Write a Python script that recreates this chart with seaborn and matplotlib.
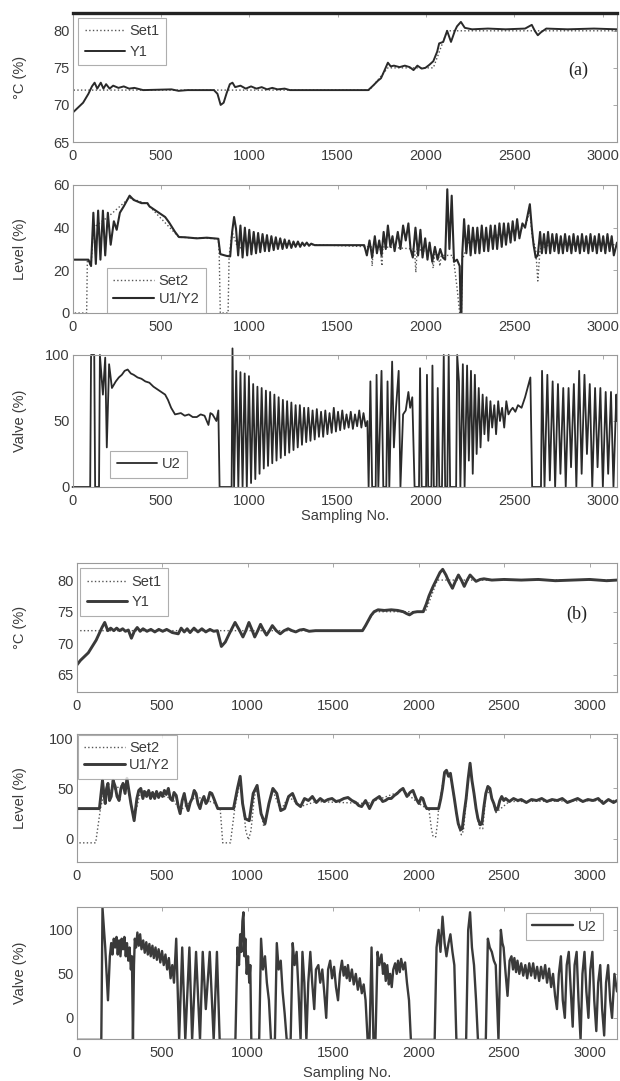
import matplotlib
matplotlib.use("Agg")
import matplotlib.pyplot as plt
import seaborn as sns

# ---------------- data: (sample, value) vertices of each trace ----------------
# Run (a)
A_SET1 = [(0, 82.3), (1, 72), (1680, 72), (1784, 75), (2041, 75), (2119, 80), (3080, 80)]
A_Y1 = [(0, 65), (3, 69), (25, 69.5), (60, 70.3), (90, 71.5), (110, 72.5), (125, 73), (140, 72.2),
        (160, 73), (175, 72.2), (190, 72.8), (210, 72.2), (230, 72.6), (260, 72.3), (290, 72.5),
        (320, 72.2), (350, 72.3), (400, 72.0), (560, 72.1), (600, 71.9), (650, 72.0), (800, 72.0),
        (820, 71.5), (838, 70.0), (855, 70.3), (872, 71.6), (890, 72.8), (905, 73.0), (920, 72.4),
        (950, 72.6), (980, 72.2), (1010, 72.5), (1040, 72.2), (1070, 72.4), (1100, 72.1),
        (1130, 72.3), (1160, 72.1), (1200, 72.2), (1230, 72.0), (1673, 72.0), (1700, 72.6),
        (1729, 73.3), (1745, 73.6), (1762, 74.5), (1784, 75.7), (1800, 75.2), (1818, 75.3),
        (1850, 75.1), (1880, 75.3), (1907, 75.1), (1929, 74.7), (1951, 75.3), (1975, 74.9),
        (1996, 75.0), (2018, 75.4), (2041, 75.9), (2063, 77.2), (2074, 78.3), (2097, 78.5),
        (2119, 80.0), (2141, 78.5), (2163, 80.0), (2175, 80.6), (2197, 81.2), (2219, 80.4),
        (2260, 80.2), (2350, 80.3), (2450, 80.2), (2560, 80.3), (2598, 80.8), (2615, 80.0),
        (2632, 79.4), (2650, 79.8), (2680, 80.3), (2800, 80.2), (2950, 80.3), (3080, 80.2)]

A_SET2 = [(0, 25), (2, 0), (80, 0), (84, 25), (105, 22), (118, 40), (200, 45), (323, 54), (424, 51),
          (602, 35.5), (825, 34.8), (830, 27), (836, 0), (880, 0), (886, 27), (903, 38), (937, 30),
          (1000, 33), (1370, 32), (1690, 31), (1695, 22), (1702, 31), (1740, 31), (1750, 22),
          (1756, 31), (1935, 30), (1942, 19), (1950, 30), (2030, 28), (2040, 21), (2050, 28),
          (2070, 27), (2078, 22), (2086, 27), (2150, 27), (2160, 22), (2175, 12), (2190, 0),
          (2200, 0), (2205, 25), (2240, 33), (2560, 40), (2587, 48), (2600, 36), (2620, 30),
          (2632, 15), (2645, 30), (2700, 32), (3080, 32)]
A_Y2 = [(0, 25), (90, 25), (105, 22), (118, 47), (132, 23), (145, 48), (158, 25), (172, 48), (185, 27),
        (200, 47), (216, 32), (234, 43), (250, 39), (268, 47), (290, 50), (323, 55), (346, 53),
        (390, 51.5), (424, 51.5), (435, 50), (480, 47.5), (524, 45), (546, 42.5), (580, 38),
        (602, 35.6), (636, 35.5), (703, 35), (760, 35.3), (825, 34.8), (836, 27.6), (870, 26.8),
        (892, 26.5), (903, 38), (914, 45), (925, 39.5), (937, 27),
        (950, 41), (962, 26), (975, 40), (988, 27), (1000, 39), (1012, 27.5), (1025, 38), (1038, 28),
        (1050, 37.5), (1062, 28.5), (1075, 37), (1088, 29), (1100, 36.5), (1112, 29), (1125, 36),
        (1138, 29.5), (1150, 35.5), (1162, 30), (1175, 35), (1188, 30), (1200, 34.5), (1212, 30.5),
        (1225, 34), (1238, 30.5), (1250, 33.5), (1262, 31), (1275, 33.5), (1288, 31), (1300, 33),
        (1312, 31.5), (1325, 33), (1338, 31.5), (1350, 32.5), (1370, 31.8), (1650, 31.8),
        (1665, 27), (1680, 34), (1695, 26), (1710, 36), (1722, 28), (1735, 34), (1748, 27),
        (1760, 38), (1772, 30), (1784, 41), (1798, 31), (1810, 36), (1822, 29), (1840, 38),
        (1855, 30), (1870, 41), (1885, 34), (1900, 42), (1912, 30), (1925, 26), (1940, 40),
        (1955, 27), (1968, 39), (1980, 26), (1995, 35), (2008, 25), (2020, 33), (2035, 24),
        (2050, 31), (2065, 25), (2080, 30), (2095, 26), (2108, 25), (2120, 58), (2132, 30),
        (2145, 55), (2158, 24), (2175, 25), (2190, 22), (2196, 0), (2200, 0), (2205, 28),
        (2215, 44), (2228, 28), (2240, 41), (2252, 27), (2265, 40), (2278, 28), (2290, 40),
        (2302, 28), (2315, 41), (2328, 29), (2340, 40), (2352, 29), (2365, 41), (2378, 30),
        (2390, 41), (2402, 30), (2415, 42), (2428, 31), (2440, 42), (2452, 32), (2465, 42),
        (2478, 33), (2490, 43), (2502, 34), (2515, 44), (2528, 35), (2545, 42), (2560, 40),
        (2575, 46), (2587, 51), (2598, 40), (2608, 32), (2620, 26), (2632, 27), (2645, 38),
        (2655, 28), (2667, 37), (2678, 28), (2690, 38), (2702, 28), (2714, 37), (2726, 29),
        (2738, 37), (2750, 28), (2762, 36), (2774, 28), (2786, 37), (2798, 29), (2810, 36),
        (2822, 28), (2834, 37), (2846, 29), (2858, 36), (2870, 28), (2882, 37), (2894, 29),
        (2906, 36), (2918, 28), (2930, 37), (2942, 29), (2954, 36), (2966, 28), (2978, 37),
        (2990, 29), (3002, 36), (3014, 28), (3026, 37), (3038, 29), (3050, 36), (3062, 27),
        (3080, 33)]

A_U2 = [(0, 0), (100, 0), (105, 100), (123, 100), (128, 0), (150, 0), (155, 100), (172, 70), (185, 98),
        (194, 30), (207, 93), (223, 75), (245, 80), (262, 83), (279, 85), (295, 88), (312, 89),
        (330, 86), (346, 85), (368, 83), (390, 82), (412, 80), (435, 79), (458, 76), (480, 74),
        (502, 72), (524, 70), (540, 66), (558, 60), (580, 55), (613, 56), (635, 54), (658, 55),
        (680, 53), (703, 53), (725, 55), (747, 54), (769, 47), (780, 56), (792, 55), (814, 50),
        (825, 58), (832, 0), (900, 0), (905, 105),
        (914, 0), (926, 88), (938, 0), (950, 87), (962, 0), (974, 86), (986, 0), (998, 84), (1010, 3),
        (1022, 78), (1034, 6), (1046, 76), (1058, 10), (1070, 75), (1082, 14), (1094, 73),
        (1106, 16), (1118, 72), (1130, 18), (1142, 70), (1154, 20), (1166, 68), (1178, 22),
        (1190, 66), (1202, 24), (1214, 65), (1226, 26), (1238, 64), (1250, 28), (1262, 62),
        (1274, 30), (1286, 62), (1298, 32), (1310, 60), (1322, 34), (1334, 60), (1346, 35),
        (1358, 58), (1370, 36), (1382, 59), (1394, 38), (1406, 57), (1418, 38), (1430, 58),
        (1442, 40), (1454, 56), (1466, 41), (1478, 60), (1490, 42), (1502, 57), (1514, 43),
        (1526, 58), (1538, 44), (1550, 55), (1562, 45), (1574, 57), (1586, 44), (1598, 55),
        (1610, 46), (1622, 58), (1634, 45), (1646, 56), (1658, 46), (1668, 50),
        (1675, 0), (1685, 80), (1695, 0), (1715, 0), (1720, 85), (1730, 0), (1748, 88), (1758, 0),
        (1775, 0), (1782, 80), (1792, 0), (1808, 95), (1818, 30), (1830, 60), (1845, 88), (1855, 0),
        (1870, 55), (1885, 58), (1900, 72), (1910, 60), (1922, 68), (1935, 0), (1960, 0), (1966, 90),
        (1975, 0), (2000, 0), (2005, 85), (2012, 0), (2030, 0), (2036, 92), (2044, 0), (2060, 0),
        (2066, 75), (2075, 0), (2090, 0), (2100, 100), (2108, 0), (2120, 0), (2128, 100), (2136, 0),
        (2170, 0), (2176, 100), (2186, 80), (2194, 0), (2208, 93), (2218, 0), (2232, 92), (2242, 20),
        (2254, 88), (2264, 10), (2276, 85), (2286, 25), (2298, 75), (2308, 30), (2320, 70),
        (2330, 40), (2342, 68), (2352, 35), (2364, 65), (2374, 45), (2386, 62), (2396, 40),
        (2408, 65), (2418, 50), (2430, 60), (2442, 45), (2454, 65), (2466, 55), (2478, 58),
        (2490, 60), (2505, 57), (2520, 62), (2540, 60), (2560, 68), (2580, 78), (2590, 83),
        (2600, 0), (2650, 0), (2656, 88), (2670, 0), (2686, 85), (2700, 5), (2716, 80), (2730, 0),
        (2746, 78), (2760, 10), (2776, 75), (2790, 0), (2806, 75), (2820, 15), (2836, 78), (2850, 0),
        (2866, 88), (2880, 10), (2896, 85), (2910, 25), (2926, 78), (2940, 0), (2956, 75),
        (2970, 15), (2986, 75), (3000, 0), (3016, 72), (3030, 10), (3046, 72), (3060, 0),
        (3076, 70), (3080, 50)]

# Run (b)
B_SET1 = [(0, 72), (1672, 72), (1740, 75), (2040, 75), (2110, 80), (3160, 80)]
B_Y1 = [(0, 66.5), (23, 67.3), (69, 68.5), (115, 70.5), (149, 72.5), (165, 73.3), (183, 72.0),
        (200, 72.4), (218, 72.0), (235, 72.4), (252, 72.0), (270, 72.3), (286, 71.9), (303, 72.1),
        (321, 70.8), (338, 71.9), (355, 72.5), (372, 71.9), (389, 72.3), (412, 71.9), (435, 72.2),
        (458, 71.8), (481, 72.2), (504, 71.9), (527, 72.2), (560, 71.7), (595, 71.5), (612, 72.4),
        (630, 71.8), (647, 72.3), (664, 71.7), (687, 72.4), (710, 71.8), (733, 72.3), (756, 71.8),
        (780, 72.2), (802, 71.9), (824, 72.0), (847, 69.5), (870, 70.2), (893, 71.5), (927, 73.3),
        (950, 72.2), (973, 71.0), (990, 72.0), (1008, 73.3), (1025, 72.2), (1042, 71.0),
        (1060, 72.0), (1076, 73.0), (1093, 72.1), (1111, 71.3), (1128, 72.0), (1145, 72.8),
        (1168, 72.0), (1191, 71.5), (1214, 72.0), (1237, 72.3), (1260, 72.0), (1282, 71.8),
        (1305, 72.1), (1328, 72.2), (1360, 71.9), (1397, 72.0), (1672, 72.0), (1690, 72.8),
        (1706, 73.6), (1722, 74.4), (1740, 75.0), (1763, 75.3), (1800, 75.2), (1840, 75.3),
        (1878, 75.2), (1910, 75.0), (1930, 74.7), (1947, 74.5), (1970, 74.9), (1992, 75.0),
        (2027, 75.0), (2045, 76.2), (2061, 77.5), (2085, 79.0), (2107, 80.2), (2125, 81.2),
        (2141, 81.7), (2160, 80.8), (2176, 79.8), (2198, 78.7), (2215, 79.8), (2233, 80.8),
        (2250, 80.0), (2267, 79.0), (2284, 80.0), (2301, 80.8), (2318, 80.3), (2336, 79.8),
        (2360, 80.1), (2382, 80.2), (2428, 80.0), (2500, 80.1), (2600, 80.0), (2700, 80.1),
        (2800, 79.9), (2900, 80.0), (3000, 80.1), (3100, 79.9), (3160, 80.0)]

B_SET2 = [(0, 30), (2, -4), (112, -4), (140, 30), (160, 45), (295, 55), (318, 35), (337, 20), (376, 48),
          (560, 40), (606, 28), (699, 42), (814, 35), (826, 30), (840, 30), (855, -4), (900, -4),
          (925, 30), (957, 58), (975, 32), (990, 8), (1005, -1), (1020, 8), (1040, 42), (1056, 50),
          (1079, 26), (1095, 12), (1102, 14), (1125, 34), (1148, 48), (1194, 28), (1240, 42),
          (1310, 32), (1400, 37), (1700, 35), (1909, 48), (2002, 35), (2048, 30), (2060, 30),
          (2075, 10), (2085, 2), (2100, 2), (2110, 15), (2117, 30), (2152, 66), (2186, 64),
          (2232, 13), (2250, 4), (2262, 8), (2290, 58), (2301, 72), (2347, 18), (2360, 10),
          (2375, 10), (2393, 43), (2417, 48), (2452, 26), (2530, 37), (3160, 38)]
B_Y2 = [(0, -22), (1, 30), (134, 30), (152, 58), (160, 45), (168, 35), (176, 50), (184, 55), (193, 38),
        (203, 42), (214, 58), (226, 52), (237, 42), (249, 38), (260, 50), (272, 55), (284, 45),
        (295, 60), (306, 48), (318, 35), (337, 18), (353, 40), (364, 48), (376, 50), (388, 40),
        (398, 47), (410, 42), (422, 48), (433, 40), (445, 46), (457, 40), (468, 47), (480, 41),
        (492, 46), (503, 42), (514, 48), (525, 44), (537, 50), (548, 40), (560, 38), (570, 46),
        (583, 43), (595, 32), (606, 25), (618, 38), (630, 45), (642, 34), (653, 28), (665, 36),
        (676, 40), (688, 48), (699, 45), (710, 35), (722, 30), (734, 38), (745, 42), (757, 35),
        (768, 38), (780, 46), (791, 45), (803, 40), (814, 35), (826, 30),
        (918, 30), (941, 50), (957, 62), (971, 35), (987, 20), (1010, 18), (1033, 45), (1056, 53),
        (1079, 25), (1102, 15), (1125, 35), (1148, 50), (1171, 45), (1194, 28), (1217, 30),
        (1240, 42), (1263, 45), (1287, 35), (1310, 32), (1333, 40), (1356, 38), (1379, 42),
        (1402, 36), (1425, 40), (1448, 37), (1470, 39), (1494, 40), (1517, 37), (1540, 38),
        (1563, 40), (1587, 41), (1610, 38), (1633, 36), (1650, 33), (1667, 32), (1690, 38),
        (1713, 30), (1736, 38), (1754, 40), (1771, 42), (1790, 37), (1806, 38), (1823, 40),
        (1840, 40), (1858, 43), (1875, 45), (1892, 48), (1909, 50), (1932, 42), (1950, 46),
        (1967, 48), (1985, 40), (2002, 35), (2015, 41), (2025, 40), (2038, 33), (2048, 30),
        (2117, 30), (2130, 40), (2140, 50), (2152, 66), (2163, 68), (2175, 62), (2186, 65),
        (2198, 52), (2209, 40), (2222, 25), (2232, 15), (2245, 9), (2255, 10), (2266, 25),
        (2278, 40), (2290, 60), (2301, 75), (2312, 58), (2324, 45), (2336, 30), (2347, 20),
        (2360, 14), (2370, 15), (2382, 32), (2393, 45), (2405, 52), (2417, 50), (2428, 40),
        (2440, 35), (2452, 28), (2463, 30), (2475, 38), (2486, 42), (2498, 38), (2509, 40),
        (2530, 37), (2555, 40), (2580, 38), (2600, 39), (2630, 36), (2660, 39), (2690, 38),
        (2720, 40), (2750, 37), (2780, 39), (2810, 38), (2840, 40), (2870, 36), (2900, 38),
        (2930, 40), (2960, 37), (2990, 39), (3020, 38), (3050, 40), (3080, 35), (3110, 39),
        (3140, 36), (3160, 38)]

B_U2 = [(0, -25), (145, -25), (152, 125), (168, 80), (184, 20), (195, 70), (203, 85), (210, 72),
        (218, 90), (226, 80), (234, 92), (241, 72), (249, 88), (257, 70), (264, 90), (272, 78),
        (280, 92), (288, 70), (295, 85), (303, 65), (310, 80), (318, 55), (324, 70), (330, -25),
        (336, 60), (341, 90), (348, 80), (356, 97), (364, 82), (372, 95), (380, 78), (390, 88),
        (399, 74), (408, 86), (417, 72), (426, 84), (434, 70), (444, 82), (452, 68), (462, 80),
        (470, 66), (480, 78), (490, 63), (500, 76), (510, 60), (520, 72), (530, 55), (540, 68),
        (550, 45), (560, 60), (570, 40), (583, 90), (600, -25), (618, 80), (636, -25), (660, 80),
        (676, -25), (699, 75), (722, -25), (738, 75), (756, 10), (779, 75), (802, -25), (821, 75),
        (837, -25), (929, -25), (941, 80), (950, 60), (957, 95), (964, 75), (970, 110), (976, 120),
        (982, 70), (987, 90), (995, 50), (1003, 70), (1010, 40), (1016, 60), (1022, -25),
        (1068, -25), (1079, 90), (1090, 55), (1102, 70), (1113, 40), (1125, 20), (1137, -25),
        (1160, -25), (1171, 85), (1182, 55), (1194, 65), (1205, 30), (1217, 5), (1229, -25),
        (1252, -25), (1264, 85), (1275, 60), (1287, 75), (1298, 30), (1310, -25), (1321, 75),
        (1332, 40), (1344, -25), (1355, 40), (1367, 75), (1378, 40), (1390, 10), (1400, 55),
        (1414, 60), (1425, 40), (1437, 55), (1448, 30), (1460, 0), (1471, 55), (1483, 65),
        (1494, 45), (1506, 58), (1517, 35), (1529, 20), (1540, 50), (1552, 65), (1562, 48),
        (1570, 58), (1580, 45), (1587, 60), (1598, 42), (1610, 55), (1621, 38), (1633, 50),
        (1645, 32), (1656, 45), (1668, 28), (1679, 38), (1690, 20), (1702, -25), (1713, -25),
        (1725, 80), (1736, -25), (1748, -25), (1760, 75), (1770, 60), (1783, 72), (1792, 50),
        (1800, 62), (1808, 42), (1817, 60), (1826, 38), (1834, 50), (1843, 35), (1852, 55),
        (1863, 62), (1872, 50), (1880, 65), (1890, 52), (1898, 67), (1910, 55), (1921, 63),
        (1932, 40), (1944, 20), (1955, -25), (2094, -25), (2105, 80), (2117, 100), (2128, 75),
        (2140, 115), (2152, 85), (2163, 70), (2175, 85), (2186, 95), (2198, 75), (2209, 60),
        (2221, -25), (2278, -25), (2290, 100), (2301, 120), (2312, 80), (2324, 60), (2336, 20),
        (2347, -25), (2393, -25), (2405, 90), (2416, 80), (2428, 75), (2440, 65), (2451, 60),
        (2467, -25), (2481, 100), (2490, 85), (2497, 80), (2509, 50), (2520, 25), (2532, 65),
        (2543, 70), (2552, 55), (2560, 68), (2570, 52), (2578, 65), (2589, 50), (2600, 62),
        (2612, 48), (2624, 60), (2635, 45), (2647, 62), (2658, 48), (2670, 62), (2681, 45),
        (2693, 58), (2705, 42), (2716, 58), (2728, 45), (2740, 60), (2751, 40), (2763, 56),
        (2775, 35), (2786, 50), (2798, 25), (2809, 10), (2820, 50), (2832, 70), (2843, 20),
        (2855, 0), (2866, 60), (2878, 75), (2890, 30), (2901, -10), (2912, 60), (2924, 75),
        (2935, 20), (2947, -25), (2958, 50), (2970, 75), (2981, 30), (2993, 0), (3004, 55),
        (3016, 75), (3027, 20), (3039, -15), (3050, 40), (3062, 60), (3073, 10), (3085, -20),
        (3096, 40), (3108, 60), (3120, 20), (3131, 0), (3145, 50), (3160, 30)]

X_TICKS = [0, 500, 1000, 1500, 2000, 2500, 3000]
TEMP_TICKS = [65, 70, 75, 80]
A_LEVEL_TICKS = [0, 20, 40, 60]
LEVEL_TICKS = [0, 50, 100]
VALVE_TICKS = [0, 50, 100]

# ---------------- style ----------------
sns.set_style("white")
plt.rcParams['font.family'] = ['Liberation Sans', 'DejaVu Sans']
LINE = "#2a2a2a"
LINE_B = "#3a3a3a"
DOT = "#555555"
FRAME = "#9a9a9a"
TXT = "#3c3c3c"

W, H = 620, 1081
fig = plt.figure(figsize=(W / 100, H / 100), dpi=100)


def make_axes(left, right, top, bottom):
    return fig.add_axes([left / W, 1 - bottom / H, (right - left) / W, (bottom - top) / H])


def trace(ax, pts, **kw):
    xs, ys = zip(*pts)
    sns.lineplot(x=list(xs), y=list(ys), ax=ax, sort=False, estimator=None, **kw)


def style(ax, xlim, ylim, yticks, ylabel, lab_x, xlabel=None, xlabel_pad=1):
    ax.set_xlim(*xlim)
    ax.set_ylim(*ylim)
    ax.set_xticks(X_TICKS)
    ax.set_yticks(yticks)
    ax.tick_params(direction="in", length=3, width=0.6, color=FRAME, labelsize=10.5,
                   labelcolor=TXT, top=True, right=True, pad=2)
    ax.tick_params(axis="x", pad=5)
    for s in ax.spines.values():
        s.set_color(FRAME)
        s.set_linewidth(0.8)
    ax.set_ylabel(ylabel, fontsize=10.5, color=TXT)
    ax.yaxis.set_label_coords(lab_x, 0.5)
    if xlabel:
        ax.set_xlabel(xlabel, fontsize=10.5, color=TXT, labelpad=xlabel_pad)
    else:
        ax.set_xlabel("")


def legend(ax, spacing=0.45, **kw):
    lg = ax.legend(fontsize=10.5, frameon=True, fancybox=False, handlelength=2.8,
                   handletextpad=0.3, borderpad=0.45, labelspacing=spacing, borderaxespad=0, **kw)
    lg.get_frame().set_edgecolor(FRAME)
    lg.get_frame().set_linewidth(0.8)
    for t in lg.get_texts():
        t.set_color(TXT)


A_L, A_R = 72.5, 617
B_L, B_R = 76.5, 617
A_XLIM = (0, 3080)
B_XLIM = (0, 3160)

# (a) temperature
ax = make_axes(A_L, A_R, 13, 142)
trace(ax, A_SET1, color=DOT, lw=1.0, linestyle=":", label="Set1")
trace(ax, A_Y1, color=LINE, lw=1.4, label="Y1")
style(ax, A_XLIM, (65, 82.4), TEMP_TICKS, "°C (%)", -0.084)
ax.spines["top"].set_color("#222222")
ax.spines["top"].set_linewidth(2.4)
legend(ax, loc="upper left", bbox_to_anchor=(0.01, 0.965))
ax.text(2860, 74.7, "(a)", family="Liberation Serif", fontsize=13, color="#222222",
        ha="center", va="center")

# (a) level
ax = make_axes(A_L, A_R, 185, 313)
trace(ax, A_SET2, color=DOT, lw=1.0, linestyle=":", label="Set2")
trace(ax, A_Y2, color=LINE, lw=1.5, label="U1/Y2")
style(ax, A_XLIM, (0, 60), A_LEVEL_TICKS, "Level (%)", -0.084)
legend(ax, spacing=0.3, loc="lower left", bbox_to_anchor=(0.063, 0.0))

# (a) valve
ax = make_axes(A_L, A_R, 355, 487)
trace(ax, A_U2, color=LINE, lw=1.3, label="U2", clip_on=False)
style(ax, A_XLIM, (0, 100), VALVE_TICKS, "Valve (%)", -0.084, "Sampling No.")
legend(ax, loc="lower left", bbox_to_anchor=(0.069, 0.068))

# (b) temperature
ax = make_axes(B_L, B_R, 563, 692)
trace(ax, B_SET1, color=DOT, lw=1.0, linestyle=":", label="Set1")
trace(ax, B_Y1, color=LINE_B, lw=2.1, label="Y1")
style(ax, B_XLIM, (62.3, 82.7), TEMP_TICKS, "°C (%)", -0.092)
legend(ax, loc="upper left", bbox_to_anchor=(0.0065, 0.96))
ax.text(2926, 74.6, "(b)", family="Liberation Serif", fontsize=13, color="#222222",
        ha="center", va="center")

# (b) level
ax = make_axes(B_L, B_R, 734, 862)
trace(ax, B_SET2, color=DOT, lw=1.0, linestyle=":", label="Set2")
trace(ax, B_Y2, color=LINE_B, lw=2.1, label="U1/Y2")
style(ax, B_XLIM, (-23, 104), LEVEL_TICKS, "Level (%)", -0.092)
legend(ax, spacing=0.2, loc="upper left", bbox_to_anchor=(0.002, 0.995))

# (b) valve
ax = make_axes(B_L, B_R, 907, 1039)
trace(ax, B_U2, color=LINE_B, lw=1.7, label="U2")
style(ax, B_XLIM, (-24, 126), VALVE_TICKS, "Valve (%)", -0.092, "Sampling No.", xlabel_pad=4)
legend(ax, loc="upper right", bbox_to_anchor=(0.974, 0.955))

fig.savefig("out.png", dpi=100)
